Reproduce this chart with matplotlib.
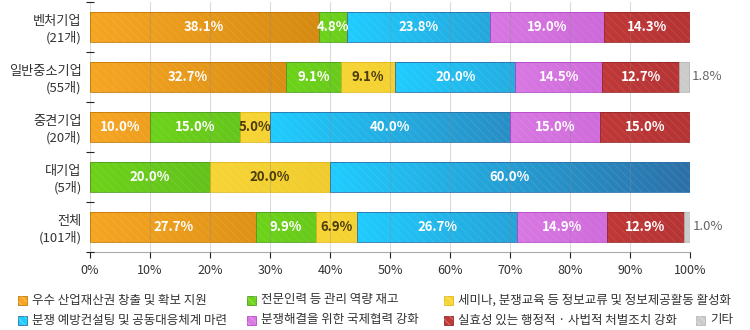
import numpy as np
import matplotlib.pyplot as plt
from matplotlib.colors import to_rgb
from matplotlib.patches import Rectangle

plt.rcParams['font.family'] = ['Noto Sans CJK KR', 'DejaVu Sans']
plt.rcParams['hatch.linewidth'] = 0.6

# companies by size (rows top to bottom)
groups = ['벤처기업\n(21개)', '일반중소기업\n(55개)', '중견기업\n(20개)', '대기업\n(5개)', '전체\n(101개)']

# share of responses per measure (%)
ip_support = [38.1, 32.7, 10.0, 0.0, 27.7]
expert_mgmt = [4.8, 9.1, 15.0, 20.0, 9.9]
seminar = [0.0, 9.1, 5.0, 20.0, 6.9]
consulting = [23.8, 20.0, 40.0, 60.0, 26.7]
intl_coop = [19.0, 14.5, 15.0, 0.0, 14.9]
penalties = [14.3, 12.7, 15.0, 0.0, 12.9]
other = [0.0, 1.8, 0.0, 0.0, 1.0]

series_names = ['우수 산업재산권 창출 및 확보 지원',
                '전문인력 등 관리 역량 재고',
                '세미나, 분쟁교육 등 정보교류 및 정보제공활동 활성화',
                '분쟁 예방컨설팅 및 공동대응체계 마련',
                '분쟁해결을 위한 국제협력 강화',
                '실효성 있는 행정적 · 사법적 처벌조치 강화',
                '기타']
series = [ip_support, expert_mgmt, seminar, consulting, intl_coop, penalties, other]

# light (left) and dark (right) end of each segment's gradient
light = ['#F7A623', '#6DD319', '#F7D535', '#1FCCFF', '#D878E2', '#C03838', '#CCCCCC']
dark = ['#C27A06', '#4E9E22', '#E2B81C', '#2C70A8', '#B648C8', '#952828', '#B8B8B8']
label_color = ['white', 'white', '#4A3C0E', 'white', 'white', 'white', '#666666']

fig = plt.figure(figsize=(7.5, 3.3), dpi=100)
ax = fig.add_axes([90 / 750, 1 - 252 / 330, 600 / 750, 250 / 330])

y = np.arange(len(groups))
lefts = np.zeros(len(groups))
for i, vals in enumerate(series):
    vals = np.array(vals)
    bars = ax.barh(y, vals, left=lefts, height=0.6, facecolor='none',
                   edgecolor=dark[i], linewidth=0.6, zorder=3)
    c0, c1 = np.array(to_rgb(light[i])), np.array(to_rgb(dark[i]))
    for j, (patch, v) in enumerate(zip(bars.patches, vals)):
        if v <= 0:
            continue
        x0, y0 = patch.get_x(), patch.get_y()
        w, h = patch.get_width(), patch.get_height()
        f = min(w / 60.0, 1.0)
        t = np.linspace(0, 1, 128)[:, None] * f
        grad = c0 * (1 - t) + c1 * t
        img = ax.imshow(grad[None, :, :], extent=[x0, x0 + w, y0 + h, y0],
                        aspect='auto', interpolation='bilinear', zorder=2)
        img.set_clip_path(patch)
        ax.add_patch(Rectangle((x0, y0), w, h, fill=False, hatch='\\\\\\\\',
                               edgecolor=(1, 1, 1, 0.10), linewidth=0, zorder=2.2))
        cx = x0 + w / 2
        if i == len(series) - 1:
            ax.text(x0 + w + 0.4, j, f'{v:.1f}%', ha='left', va='center',
                    color=label_color[i], fontsize=9.5, zorder=4)
        else:
            ax.text(cx, j, f'{v:.1f}%', ha='center', va='center',
                    color=label_color[i], fontsize=9.5, fontweight='bold', zorder=4)
    lefts += vals

ax.set_xlim(0, 100)
ax.set_ylim(len(groups) - 0.5, -0.5)

ax.set_xticks(np.arange(0, 101, 10))
ax.set_xticklabels([f'{v}%' for v in range(0, 101, 10)], fontsize=9, color='#333333')
ax.tick_params(axis='x', direction='out', length=4, width=0.8, color='#222222', pad=5)

ax.set_yticks(y)
ax.set_yticklabels(groups, fontsize=9.5, color='#333333', linespacing=1.3)
ax.tick_params(axis='y', length=0, pad=6)
ax.set_yticks(np.arange(-0.5, len(groups) + 0.5, 1), minor=True)
ax.tick_params(axis='y', which='minor', direction='inout', length=6, width=0.8, color='#222222')

ax.set_axisbelow(False)
ax.xaxis.grid(True, color='#888888', alpha=0.3, linewidth=0.8)
for s in ['left', 'top', 'right']:
    ax.spines[s].set_visible(False)
ax.spines['bottom'].set_color('#AAAAAA')

# legend laid out in two rows
legend_pos = [(18, 300), (247, 300), (444, 300),
              (18, 320), (247, 320), (444, 320), (696, 320)]
for i, (px, py) in enumerate(legend_pos):
    fx, fy = px / 750, 1 - py / 330
    sq_w, sq_h = 9 / 750, 9 / 330
    fig.patches.append(Rectangle((fx, fy - sq_h / 2), sq_w, sq_h, transform=fig.transFigure,
                                 facecolor=light[i], edgecolor=dark[i], linewidth=0.6))
    fig.patches.append(Rectangle((fx, fy - sq_h / 2), sq_w, sq_h, transform=fig.transFigure,
                                 fill=False, hatch='\\\\\\\\', edgecolor=(1, 1, 1, 0.35),
                                 linewidth=0))
    fig.text(fx + 14 / 750, fy, series_names[i], fontsize=9, color='#333333',
             ha='left', va='center')

fig.savefig('out.png', dpi=100)
